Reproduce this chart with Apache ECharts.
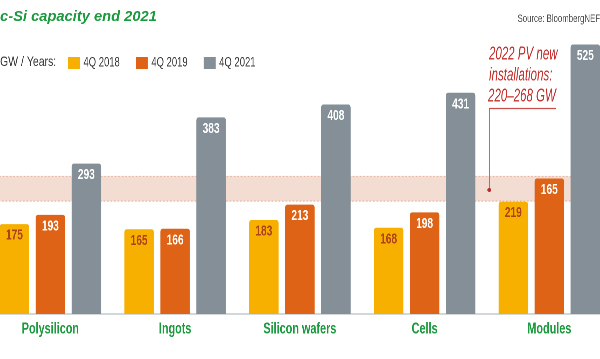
<!DOCTYPE html>
<html><head><meta charset="utf-8">
<script src="https://cdn.jsdelivr.net/npm/echarts@6/dist/echarts.min.js"></script>
<style>
html,body{margin:0;padding:0;background:#fff;overflow:hidden;width:600px;height:359px}
#c{position:absolute;left:-12px;top:0;width:891px;height:359px;transform:scaleX(0.7);transform-origin:0 0}
</style>
</head><body><div id="c"></div>
<script>
const categories = ['Polysilicon', 'Ingots', 'Silicon wafers', 'Cells', 'Modules'];
const seriesNames = ['4Q 2018', '4Q 2019', '4Q 2021'];
const q2018 = [175, 165, 183, 168, 219];
const q2019 = [193, 166, 213, 198, 264];
const q2021 = [293, 383, 408, 431, 525];
// value labels exactly as printed in the source graphic
const q2018Labels = ['175', '165', '183', '168', '219'];
const q2019Labels = ['193', '166', '213', '198', '165'];
const q2021Labels = ['293', '383', '408', '431', '525'];
const bandRange = [220, 268];
const titleText = 'c-Si capacity end 2021';
const sourceText = 'Source: BloombergNEF';
const unitText = 'GW / Years:';
const noteLines = ['2022 PV new', 'installations:', '220\u2013268 GW'];

// horizontal condensing of the whole canvas (CSS scaleX) and its offset
const SX = 0.7, OFF = 12;
const dx = xs => (xs + OFF) / SX;   // screen x -> chart x

const FONT = '"Liberation Sans", Arial, sans-serif';
const colors = ['#f8b000', '#df6316', '#848f97'];
const labelColors = ['#ad431b', '#ffffff', '#ffffff'];
const datas = [q2018, q2019, q2021];
const labelSets = [q2018Labels, q2019Labels, q2021Labels];

const chart = echarts.init(document.getElementById('c'), null, { devicePixelRatio: 2 });
const barSeries = seriesNames.map((n, i) => ({
  name: n, type: 'bar', z: 3,
  data: datas[i],
  barWidth: 29.5 / SX, barGap: '22%',
  itemStyle: { color: colors[i], borderRadius: [3, 3, 0, 0] },
  label: {
    show: true, position: 'insideTop', distance: 4,
    color: labelColors[i], fontFamily: FONT, fontWeight: 'bold', fontSize: 14.5,
    formatter: p => labelSets[i][p.dataIndex]
  }
}));
const bandSeries = {
  name: 'band', type: 'bar', data: [], z: 1, silent: true,
  markArea: {
    silent: true,
    itemStyle: { color: '#f3ddd3', borderColor: '#e4ad98', borderWidth: 1, borderType: 'dotted' },
    data: [[{ yAxis: bandRange[0] }, { yAxis: bandRange[1] }]]
  }
};
const txt = (text, xs, y, font, fill, sx, align) => ({
  type: 'text', x: dx(xs), y: y, scaleX: sx, z: 20,
  style: { text: text, font: font, fill: fill, align: align || 'left', verticalAlign: 'middle' }
});
chart.setOption({
  animation: false,
  legend: {
    data: seriesNames, left: dx(68), top: 56, padding: 0, icon: 'rect', itemWidth: 12 / SX, itemHeight: 12, itemGap: 23,
    textStyle: { fontFamily: FONT, fontSize: 13.5, color: '#3a3a3a' }
  },
  grid: { left: 0, right: 0, top: 6, bottom: 45, containLabel: false },
  xAxis: {
    type: 'category', data: categories,
    axisLine: { lineStyle: { color: '#c3c9cd', width: 1.5 } },
    axisTick: { show: false },
    axisLabel: { interval: 0, color: '#1c9a3f', fontFamily: FONT, fontWeight: 'bold', fontSize: 15.5, margin: 7 }
  },
  yAxis: { type: 'value', min: 0, max: 600, show: false, splitLine: { show: false } },
  series: [bandSeries, ...barSeries],
  graphic: [
    txt(titleText, 0, 17, 'italic bold 15px ' + FONT, '#1c9a3f', 0.98 / SX),
    txt(unitText, 0, 62, '14px ' + FONT, '#3a3a3a', 0.75 / SX),
    txt(sourceText, 600, 19, '11px ' + FONT, '#4d4d4d', 0.71 / SX, 'right'),
    txt(noteLines[0], 489, 54.5, 'italic 18px ' + FONT, '#c3302d', 0.64 / SX),
    txt(noteLines[1], 489, 75.5, 'italic 18px ' + FONT, '#c3302d', 0.64 / SX),
    txt(noteLines[2], 488, 96.5, 'italic 18px ' + FONT, '#c3302d', 0.64 / SX),
    { type: 'polyline', z: 20, shape: { points: [[dx(556), 108.5], [dx(489.3), 108.5], [dx(489.3), 190]] },
      style: { stroke: '#c9504a', lineWidth: 1.3, fill: null } },
    { type: 'circle', z: 20, x: dx(489.3), y: 190, scaleX: 1 / SX, shape: { cx: 0, cy: 0, r: 2 }, style: { fill: '#b5302c' } }
  ]
});
</script></body></html>
